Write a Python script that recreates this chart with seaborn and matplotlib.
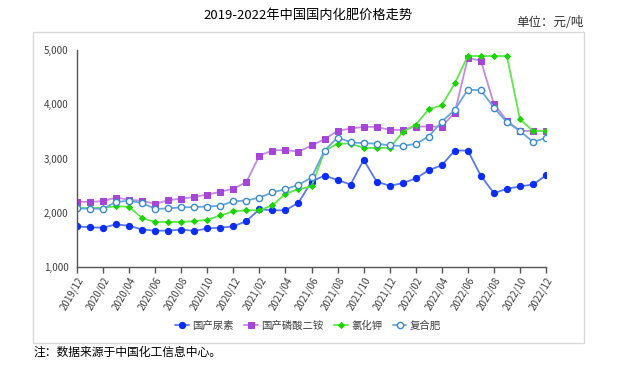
import numpy as np
import pandas as pd
import matplotlib
matplotlib.use("Agg")
import matplotlib.pyplot as plt
import seaborn as sns
from matplotlib.patches import Rectangle

# months 2019/12 .. 2022/12
months = pd.date_range("2019-12-01", "2022-12-01", freq="MS").strftime("%Y/%m").tolist()

urea = [1750, 1730, 1725, 1785, 1760, 1690, 1670, 1670, 1690, 1665, 1710, 1725, 1750,
        1845, 2065, 2045, 2045, 2185, 2575, 2685, 2605, 2520, 2975, 2575, 2497,
        2546, 2632, 2785, 2877, 3147, 3147, 2680, 2362, 2442, 2485, 2521, 2687]
dap = [2202, 2200, 2215, 2280, 2240, 2220, 2165, 2230, 2260, 2290, 2335, 2387, 2442,
       2565, 3055, 3147, 3160, 3123, 3240, 3356, 3510, 3552, 3583, 3583, 3528,
       3528, 3589, 3589, 3589, 3847, 4853, 4804, 4006, 3699, 3509, 3509, 3515]
kcl = [2080, 2090, 2090, 2120, 2110, 1900, 1830, 1830, 1830, 1845, 1870, 1950, 2025,
       2045, 2045, 2135, 2350, 2435, 2485, 3135, 3276, 3276, 3196, 3196, 3196,
       3485, 3626, 3908, 3982, 4387, 4890, 4890, 4890, 4890, 3724, 3509, 3509]
compound = [2080, 2075, 2075, 2200, 2220, 2180, 2070, 2080, 2100, 2105, 2115, 2130, 2210,
            2225, 2280, 2375, 2435, 2515, 2650, 3147, 3387, 3300, 3282, 3276, 3240,
            3233, 3270, 3405, 3681, 3896, 4270, 4258, 3939, 3669, 3509, 3307, 3380]

names = ["国产尿素", "国产磷酸二铵", "氯化钾", "复合肥"]

sns.set_theme(style="white")
plt.rcParams['font.family'] = ['Noto Sans CJK SC', 'DejaVu Sans']

fig = plt.figure(figsize=(6.24, 3.68), dpi=100)
ax = fig.add_axes([0.1234, 0.2745, 0.7516, 0.5895])

x = np.arange(len(months))
df = pd.DataFrame({"x": x, "urea": urea, "dap": dap, "kcl": kcl, "compound": compound})

sns.lineplot(data=df, x="x", y="urea", ax=ax, color="#5a78f0", lw=1.3, marker="o", ms=4.5,
             mfc="#0b2cf5", mec="#0b2cf5", label=names[0])
sns.lineplot(data=df, x="x", y="dap", ax=ax, color="#c48ae6", lw=1.3, marker="s", ms=4.5,
             mfc="#a645d8", mec="#a645d8", label=names[1])
sns.lineplot(data=df, x="x", y="kcl", ax=ax, color="#5fe84a", lw=1.3, marker="D", ms=3,
             mfc="#1ad400", mec="#1ad400", label=names[2])
sns.lineplot(data=df, x="x", y="compound", ax=ax, color="#66a8dc", lw=1.3, marker="o", ms=4.5,
             mfc="white", mec="#3a8ad0", mew=1.0, label=names[3])

ax.set_xlim(0, 36)
ax.set_ylim(1000, 5000)
ax.set_xlabel("")
ax.set_ylabel("")
ax.set_yticks([1000, 2000, 3000, 4000, 5000])
ax.set_yticklabels([f"{v:,}" for v in [1000, 2000, 3000, 4000, 5000]], fontsize=7, color="#404040")
ax.set_xticks(x[::2])
ax.set_xticklabels(months[::2], rotation=60, ha="right", rotation_mode="anchor",
                   fontsize=7, color="#404040")
ax.tick_params(axis="x", length=4, width=1, color="#555555", direction="out", bottom=True, pad=2)
ax.tick_params(axis="y", length=0, pad=6)
for s in ["top", "right"]:
    ax.spines[s].set_visible(False)
for s in ["left", "bottom"]:
    ax.spines[s].set_color("#555555")
    ax.spines[s].set_linewidth(1.0)

ax.legend(loc="center", bbox_to_anchor=(0.493, -0.272), ncol=4, frameon=False,
          fontsize=7.5, handlelength=1.3, columnspacing=1.0, handletextpad=0.35,
          labelcolor="#404040", borderpad=0)

fig.patches.append(Rectangle((33 / 624, 1 - 343 / 368), (584 - 33) / 624, (343 - 32) / 368,
                             transform=fig.transFigure, fill=False, ec="#d9d9d9", lw=1))

fig.text(0.494, 0.958, "2019-2022年中国国内化肥价格走势", ha="center", va="center",
         fontsize=9.5, color="black")
fig.text(0.936, 0.938, "单位：元/吨", ha="right", va="center", fontsize=9, color="#333333")
fig.text(0.053, 0.043, "注：数据来源于中国化工信息中心。", ha="left", va="center",
         fontsize=8.5, color="black")

fig.savefig("out.png", dpi=100)
